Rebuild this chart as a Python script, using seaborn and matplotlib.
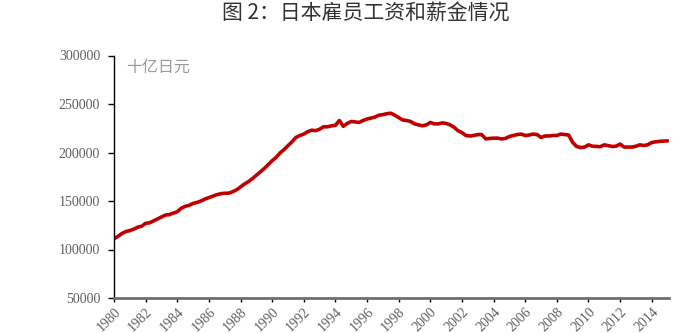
import numpy as np
import pandas as pd
import matplotlib
matplotlib.use("Agg")
import matplotlib.pyplot as plt
import seaborn as sns

# Quarterly data, 1980Q1 .. 2015Q1 (billion yen)
wages = [
    111000, 113500, 116500, 118500,
    119500, 121000, 123000, 124000,
    127000, 127500, 129500, 131500,
    133500, 135500, 136000, 137500,
    139000, 142500, 144500, 145500,
    147500, 148500, 150000, 152000,
    153500, 155000, 156500, 157500,
    158000, 158000, 159500, 161500,
    164500, 167500, 170000, 173000,
    176500, 180000, 183500, 187500,
    191500, 195000, 199500, 203000,
    207000, 211000, 215500, 217500,
    219000, 221500, 223000, 222500,
    224000, 226500, 226500, 227500,
    228000, 233000, 227000, 230000,
    232000, 231500, 231000, 233000,
    234500, 235500, 236500, 238500,
    239000, 240000, 240500, 238500,
    236000, 233500, 233000, 232000,
    229500, 228500, 227500, 228500,
    231000, 229500, 229500, 230500,
    230000, 228500, 226000, 222500,
    220500, 217500, 217000, 217500,
    218500, 218500, 214000, 214500,
    214800, 214800, 214000, 214500,
    216500, 217500, 218500, 219000,
    217500, 218000, 219000, 218500,
    215500, 217000, 217000, 217500,
    217500, 219000, 218500, 218000,
    210500, 206200, 205100, 205500,
    207900, 206500, 206200, 206000,
    207900, 207000, 206200, 206500,
    208700, 205600, 205600, 205600,
    206500, 207900, 207200, 208000,
    210300, 211000, 211500, 211800,
    212000,
]
start_year = 1980
tick_years = list(range(1980, 2015, 2))
y_ticks = [50000, 100000, 150000, 200000, 250000, 300000]
title = "图 2：日本雇员工资和薪金情况"
unit = "十亿日元"

t = [start_year + i * 0.25 for i in range(len(wages))]
df = pd.DataFrame({"t": t, "wages": wages})

sns.set_theme(style="white")
plt.rcParams["font.family"] = ["Liberation Serif", "DejaVu Serif"]

fig = plt.figure(figsize=(7, 3.33), dpi=100)
ax = fig.add_axes([114 / 700, 1 - 298 / 333, (668.5 - 114) / 700, (298 - 55.5) / 333])

sns.lineplot(data=df, x="t", y="wages", ax=ax, color="#C00000", linewidth=2.6)

ax.set_xlim(1980, 2015.06)
ax.set_ylim(50000, 300000)
ax.set_xticks(tick_years)
ax.set_xticklabels([str(y) for y in tick_years], rotation=45, ha="right",
                   rotation_mode="anchor", fontsize=10, color="#606060")
ax.set_yticks(y_ticks)
ax.set_yticklabels([str(v) for v in y_ticks], fontsize=10, color="#606060")
ax.set_xlabel("")
ax.set_ylabel("")

for s in ["top", "right"]:
    ax.spines[s].set_visible(False)
ax.spines["left"].set_color("black")
ax.spines["left"].set_linewidth(1.0)
ax.spines["bottom"].set_color("#6f6f6f")
ax.spines["bottom"].set_linewidth(2.0)

ax.tick_params(axis="y", direction="out", length=4, width=1, color="black", pad=6, left=True)
ax.tick_params(axis="x", direction="out", length=3, width=1, color="black", pad=2, bottom=True)

ax.text(0.022, 0.985, unit, transform=ax.transAxes, ha="left", va="top",
        fontsize=11.5, color="#9a9a9a", family=["Noto Sans CJK SC", "DejaVu Sans"])

fig.text(366 / 700, 1 - 14 / 333, title, ha="center", va="center",
         fontsize=15, color="#333333", family=["Noto Sans CJK SC", "DejaVu Sans"])

fig.savefig("out.png", dpi=100)
